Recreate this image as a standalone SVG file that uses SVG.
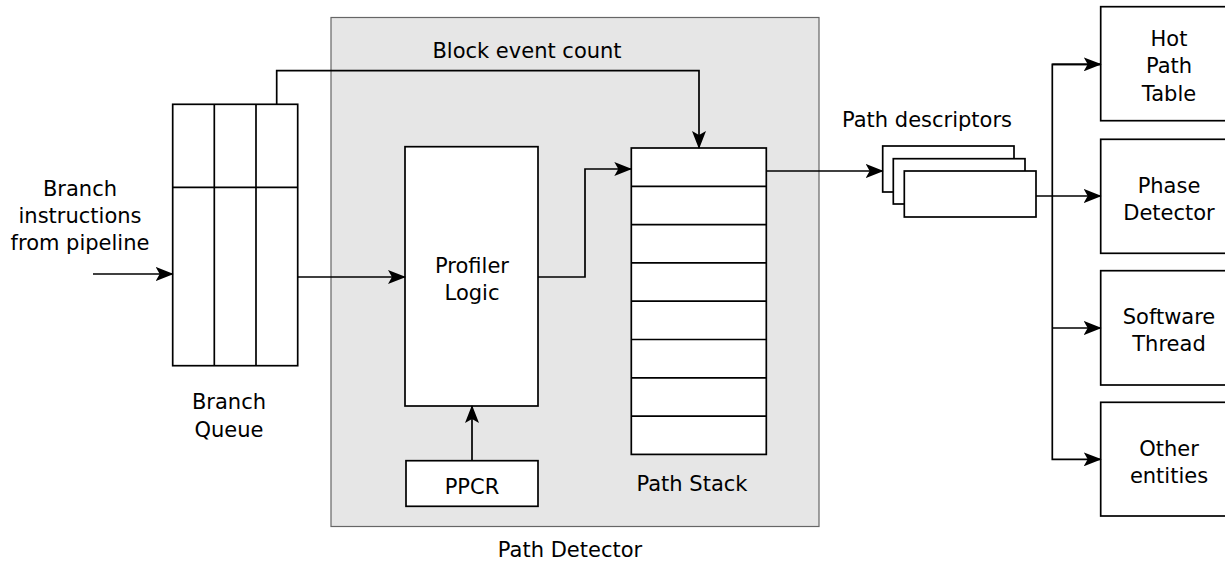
<svg xmlns="http://www.w3.org/2000/svg" width="1225" height="561" viewBox="0 0 1225 561">
<style>
.b{fill:#fff;stroke:#000;stroke-width:1.7}
.c{fill:none;stroke:#000;stroke-width:1.7}
.t{font-family:"DejaVu Sans",sans-serif;font-size:21px;fill:#000;text-anchor:middle}
</style>
<defs>
<marker id="a" viewBox="0 0 18 14" refX="17" refY="7" markerWidth="18" markerHeight="14" markerUnits="userSpaceOnUse" orient="auto">
<path d="M0,0 L18,7 L0,14 L4,7 Z" fill="#000"/>
</marker>
</defs>
<rect width="1225" height="561" fill="#fff"/>
<g id="path-detector">
<rect x="331" y="17.5" width="488" height="509" fill="#e6e6e6" stroke="#666" stroke-width="1.2"/>
<text class="t" x="570" y="557">Path Detector</text>
</g>
<g id="branch-queue">
<rect class="b" x="172.7" y="104.3" width="125" height="261.4"/>
<line class="c" x1="214.3" y1="104.3" x2="214.3" y2="365.7"/>
<line class="c" x1="256" y1="104.3" x2="256" y2="365.7"/>
<line class="c" x1="172.7" y1="187.3" x2="297.7" y2="187.3"/>
<text class="t" x="229" y="409">Branch</text>
<text class="t" x="229" y="437">Queue</text>
</g>
<g id="input-label">
<text class="t" x="80" y="196">Branch</text>
<text class="t" x="80" y="223">instructions</text>
<text class="t" x="80" y="250">from pipeline</text>
</g>
<g id="profiler-logic">
<rect class="b" x="405" y="146.7" width="133" height="259.3"/>
<text class="t" x="472" y="273">Profiler</text>
<text class="t" x="472" y="300">Logic</text>
</g>
<g id="ppcr">
<rect class="b" x="406" y="460.7" width="132" height="45.6"/>
<text class="t" x="472" y="494">PPCR</text>
</g>
<g id="path-stack">
<rect class="b" x="631.3" y="148" width="135" height="306.4"/>
<line class="c" x1="631.3" y1="186.3" x2="766.3" y2="186.3"/>
<line class="c" x1="631.3" y1="224.6" x2="766.3" y2="224.6"/>
<line class="c" x1="631.3" y1="262.9" x2="766.3" y2="262.9"/>
<line class="c" x1="631.3" y1="301.2" x2="766.3" y2="301.2"/>
<line class="c" x1="631.3" y1="339.5" x2="766.3" y2="339.5"/>
<line class="c" x1="631.3" y1="377.8" x2="766.3" y2="377.8"/>
<line class="c" x1="631.3" y1="416.1" x2="766.3" y2="416.1"/>
<text class="t" x="692" y="491">Path Stack</text>
</g>
<g id="path-descriptors">
<rect class="b" x="882.7" y="146" width="131.3" height="46"/>
<rect class="b" x="893.3" y="158.7" width="131.7" height="45.3"/>
<rect class="b" x="904.3" y="171" width="131.7" height="46"/>
<text class="t" x="927" y="127">Path descriptors</text>
</g>
<g id="hot-path-table">
<rect class="b" x="1100.7" y="6.7" width="140" height="114"/>
<text class="t" x="1169" y="46">Hot</text>
<text class="t" x="1169" y="73">Path</text>
<text class="t" x="1169" y="101">Table</text>
</g>
<g id="phase-detector">
<rect class="b" x="1100.7" y="139.3" width="140" height="114"/>
<text class="t" x="1169" y="193">Phase</text>
<text class="t" x="1169" y="220">Detector</text>
</g>
<g id="software-thread">
<rect class="b" x="1100.7" y="270.7" width="140" height="114.3"/>
<text class="t" x="1169" y="324">Software</text>
<text class="t" x="1169" y="351">Thread</text>
</g>
<g id="other-entities">
<rect class="b" x="1100.7" y="402.3" width="140" height="113.7"/>
<text class="t" x="1169" y="456">Other</text>
<text class="t" x="1169" y="483">entities</text>
</g>
<g id="connectors">
<text class="t" x="527" y="58">Block event count</text>
<polyline class="c" points="276.7,104.3 276.7,70.7 699,70.7 699,148" marker-end="url(#a)"/>
<line class="c" x1="93" y1="274" x2="172.7" y2="274" marker-end="url(#a)"/>
<line class="c" x1="297.7" y1="277" x2="405" y2="277" marker-end="url(#a)"/>
<polyline class="c" points="538,277 585,277 585,169 631.3,169" marker-end="url(#a)"/>
<line class="c" x1="472" y1="460.7" x2="472" y2="406" marker-end="url(#a)"/>
<line class="c" x1="766.3" y1="171" x2="882.7" y2="171" marker-end="url(#a)"/>
<line class="c" x1="1036" y1="196" x2="1100.7" y2="196" marker-end="url(#a)"/>
<polyline class="c" points="1100.7,64.3 1052.3,64.3 1052.3,459.3 1100.7,459.3" marker-end="url(#a)"/>
<line class="c" x1="1052.3" y1="64.3" x2="1100.7" y2="64.3" marker-end="url(#a)"/>
<line class="c" x1="1052.3" y1="328" x2="1100.7" y2="328" marker-end="url(#a)"/>
</g>
</svg>
